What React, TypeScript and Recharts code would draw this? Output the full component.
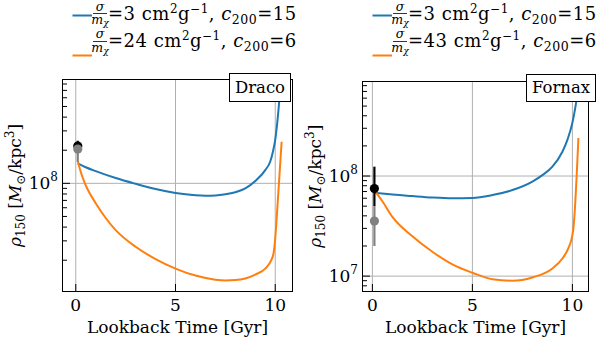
import React from 'react';
import {
  CartesianGrid,
  ErrorBar,
  Label,
  Line,
  LineChart,
  Scatter,
  XAxis,
  YAxis,
} from 'recharts';

const BLUE = '#1f77b4';
const ORANGE = '#ff7f0e';
const FONT = '"DejaVu Serif", "Liberation Serif", serif';

// Draco
const DRACO_BLUE_T = [0.1, 0.5, 1, 2, 3, 4, 5, 6, 6.5, 7, 7.5, 8, 8.5, 9, 9.5, 9.75, 9.9, 10, 10.1, 10.2, 10.3];
const DRACO_BLUE_RHO = [1.52e8, 1.4e8, 1.29e8, 1.117e8, 9.9e7, 8.87e7, 8.17e7, 7.8e7, 7.73e7, 7.76e7, 7.94e7, 8.3e7, 9.0e7, 1.05e8, 1.32e8, 1.58e8, 2.0e8, 2.5e8, 3.55e8, 5.6e8, 1.0e9];
const DRACO_ORANGE_T = [0.1, 0.3, 0.5, 1, 1.5, 2, 3, 4, 5, 6, 7, 7.5, 8, 8.5, 9, 9.5, 9.8, 9.92, 10, 10.05, 10.32];
const DRACO_ORANGE_RHO = [1.6e8, 1.19e8, 9.6e7, 6.6e7, 4.84e7, 3.76e7, 2.65e7, 2.05e7, 1.68e7, 1.45e7, 1.33e7, 1.31e7, 1.32e7, 1.365e7, 1.48e7, 1.68e7, 2.0e7, 2.34e7, 3.16e7, 4.17e7, 2.39e8];
const DRACO_OBS_T = [0.1, 0.1];
const DRACO_OBS_RHO = [2.18e8, 2.05e8];
const DRACO_OBS_ERR = [[0.23e8, 0.26e8], [0.48e8, 0.2e8]];

// Fornax
const FORNAX_BLUE_T = [0.1, 1, 2, 3, 4, 5, 6, 7, 8, 8.5, 9, 9.5, 9.75, 10, 10.1, 10.2, 10.3];
const FORNAX_BLUE_RHO = [6.8e7, 6.53e7, 6.3e7, 6.1e7, 6.0e7, 6.03e7, 6.45e7, 7.24e7, 8.8e7, 1.02e8, 1.24e8, 1.75e8, 2.3e8, 3.4e8, 4.3e8, 5.75e8, 1.0e9];
const FORNAX_ORANGE_T = [0.1, 0.5, 1, 2, 3, 4, 5, 6, 7, 8, 9, 9.5, 9.8, 10, 10.05, 10.3];
const FORNAX_ORANGE_RHO = [7.2e7, 5.6e7, 3.9e7, 2.5e7, 1.75e7, 1.31e7, 1.08e7, 9.3e6, 9.0e6, 9.7e6, 1.19e7, 1.5e7, 1.9e7, 2.57e7, 3.0e7, 2.4e8];
const FORNAX_OBS_T = [0.1, 0.1];
const FORNAX_OBS_RHO = [7.5e7, 3.55e7];
const FORNAX_OBS_ERR = [[2.5e7, 4.9e7], [1.55e7, 1.45e7]];

const OBS_COLORS = ['#000000', '#808080'];
const X_TICKS = [0, 5, 10];

const zip = (t: number[], rho: number[]) => t.map((v, i) => ({ t: v, rho: rho[i] }));

function logTicks(lo: number, hi: number) {
  const out: number[] = [];
  for (let e = Math.floor(Math.log10(lo)); e <= Math.ceil(Math.log10(hi)); e++) {
    for (let m = 1; m <= 9; m++) {
      const v = m * Math.pow(10, e);
      if (v >= lo && v <= hi) out.push(v);
    }
  }
  return out;
}

const isMajor = (v: number) => {
  const e = Math.log10(v);
  return Math.abs(e - Math.round(e)) < 1e-6;
};

const YTick = (props: any) => {
  const { x, y, payload } = props;
  const v = payload.value;
  const major = isMajor(v);
  return (
    <g>
      <line x1={x} x2={x + (major ? 7 : 4)} y1={y} y2={y} stroke="#000" strokeWidth={1} />
      {major && (
        <text x={x - 5} y={y + 6} textAnchor="end" fontFamily={FONT} fontSize={17} fill="#000">
          10<tspan dy={-8} fontSize={12}>{Math.round(Math.log10(v))}</tspan>
        </text>
      )}
    </g>
  );
};

const XTick = (props: any) => {
  const { x, y, payload } = props;
  return (
    <g>
      <line x1={x} x2={x} y1={y} y2={y - 7} stroke="#000" strokeWidth={1} />
      <text x={x} y={y + 20} textAnchor="middle" fontFamily={FONT} fontSize={17} fill="#000">
        {payload.value}
      </text>
    </g>
  );
};

const Dot = (color: string) => (p: any) => (
  <circle cx={p.cx} cy={p.cy} r={4.6} fill={color} />
);

interface PanelProps {
  name: string;
  left: number;
  plot: { top: number; left: number; right: number; bottom: number };
  xDomain: [number, number];
  yDomain: [number, number];
  blue: { t: number; rho: number }[];
  orange: { t: number; rho: number }[];
  obsT: number[];
  obsRho: number[];
  obsErr: number[][];
  box: { x: number; y: number; w: number; h: number };
}

function LegendRows({ ox, labels }: { ox: number; labels: [string, string] }) {
  const rows = [
    { color: BLUE, lineY: 15.5, base: 20, sig: 10.5, bar: 13.5, m: 24, label: labels[0], c: '15' },
    { color: ORANGE, lineY: 55.5, base: 47, sig: 38, bar: 41.5, m: 52, label: labels[1], c: '6' },
  ];
  return (
    <>
      {rows.map((r, i) => (
        <g key={i}>
          <line x1={ox + 72.5} x2={ox + 92} y1={r.lineY} y2={r.lineY} stroke={r.color} strokeWidth={2} />
          <text x={ox + 100} y={r.sig} textAnchor="middle" fontFamily={FONT} fontStyle="italic" fontSize={12.5}>σ</text>
          <line x1={ox + 93} x2={ox + 107} y1={r.bar} y2={r.bar} stroke="#000" strokeWidth={0.8} />
          <text x={ox + 100} y={r.m} textAnchor="middle" fontFamily={FONT} fontStyle="italic" fontSize={12.5}>
            m<tspan fontSize={9} dy={2}>χ</tspan>
          </text>
          <text x={ox + 108} y={r.base} fontFamily={FONT} fontSize={18} letterSpacing={0.5} fill="#000">
            ={r.label} cm<tspan dy={-7} fontSize={12}>2</tspan>
            <tspan dy={7}>g</tspan>
            <tspan dy={-7} fontSize={12}>−1</tspan>
            <tspan dy={7}>, </tspan>
            <tspan fontStyle="italic">c</tspan>
            <tspan dy={4} fontSize={12.5}>200</tspan>
            <tspan dy={-4}>={r.c}</tspan>
          </text>
        </g>
      ))}
    </>
  );
}

function Panel(p: PanelProps) {
  const obs = p.obsT.map((t, i) => ({ t, rho: p.obsRho[i], err: p.obsErr[i] }));
  const yTicks = logTicks(p.yDomain[0], p.yDomain[1]);
  const majors = yTicks.filter(isMajor);
  const plotW = 300 - p.plot.left - p.plot.right;
  const plotH = 350 - p.plot.top - p.plot.bottom;
  return (
    <div style={{ position: 'absolute', left: p.left, top: 0, width: 300, height: 350 }}>
      <LineChart width={300} height={350} margin={{ top: p.plot.top, right: p.plot.right, left: 0, bottom: 0 }}>
        <CartesianGrid
          stroke="#b0b0b0"
          strokeWidth={1}
          horizontalValues={majors}
          verticalValues={X_TICKS}
        />
        <XAxis
          type="number"
          dataKey="t"
          domain={p.xDomain}
          ticks={X_TICKS}
          allowDataOverflow
          height={p.plot.bottom}
          tickSize={0}
          tickMargin={0}
          axisLine={false}
          tickLine={false}
          interval={0}
          tick={<XTick />}
        >
          <Label
            content={(lp: any) => {
              const vb = lp.viewBox;
              return (
                <text x={vb.x + vb.width / 2} y={vb.y + 42} textAnchor="middle" fontFamily={FONT} fontSize={17} fill="#000">
                  Lookback Time [Gyr]
                </text>
              );
            }}
          />
        </XAxis>
        <YAxis
          type="number"
          dataKey="rho"
          scale="log"
          domain={p.yDomain}
          ticks={yTicks}
          allowDataOverflow
          width={p.plot.left}
          tickSize={0}
          tickMargin={0}
          axisLine={false}
          tickLine={false}
          interval={0}
          tick={<YTick />}
        >
          <Label
            content={(lp: any) => {
              const vb = lp.viewBox;
              const cx = vb.x + vb.width - 42;
              const cy = vb.y + vb.height / 2;
              return (
                <text x={cx} y={cy} transform={`rotate(-90 ${cx} ${cy})`} textAnchor="middle" fontFamily={FONT} fontSize={17} fill="#000">
                  <tspan fontStyle="italic">ρ</tspan>
                  <tspan dy={4} fontSize={12}>150</tspan>
                  <tspan dy={-4}> [</tspan>
                  <tspan fontStyle="italic">M</tspan>
                  <tspan dy={4} fontSize={12}>⊙</tspan>
                  <tspan dy={-4}>/kpc</tspan>
                  <tspan dy={-7} fontSize={12}>3</tspan>
                  <tspan dy={7}>]</tspan>
                </text>
              );
            }}
          />
        </YAxis>
        <Line data={p.blue} dataKey="rho" type="monotone" stroke={BLUE} strokeWidth={2} dot={false} isAnimationActive={false} />
        <Line data={p.orange} dataKey="rho" type="monotone" stroke={ORANGE} strokeWidth={2} dot={false} isAnimationActive={false} />
        {obs.map((o, i) => (
          <Scatter key={i} data={[o]} dataKey="rho" shape={Dot(OBS_COLORS[i])} isAnimationActive={false}>
            <ErrorBar dataKey="err" direction="y" width={0} stroke={OBS_COLORS[i]} strokeWidth={2.2} isAnimationActive={false} />
          </Scatter>
        ))}
      </LineChart>
      <div
        style={{
          position: 'absolute',
          left: p.plot.left - 0.6,
          top: p.plot.top - 0.6,
          width: plotW,
          height: plotH,
          border: '1.2px solid #000',
          pointerEvents: 'none',
        }}
      />
      <div
        style={{
          position: 'absolute',
          left: p.box.x - p.left,
          top: p.box.y,
          width: p.box.w,
          height: p.box.h,
          boxSizing: 'border-box',
          border: '1px solid #000',
          background: '#fff',
          fontFamily: FONT,
          fontSize: 16.5,
          lineHeight: `${p.box.h - 2}px`,
          textAlign: 'center',
          color: '#000',
        }}
      >
        {p.name}
      </div>
    </div>
  );
}

export default function App() {
  return (
    <div style={{ position: 'absolute', left: 0, top: 0, width: 600, height: 350, background: '#fff' }}>
      <Panel
        name="Draco"
        left={0}
        plot={{ top: 80, left: 63, right: 8, bottom: 59 }}
        xDomain={[-0.64, 10.84]}
        yDomain={[1.05e7, 8.7e8]}
        blue={zip(DRACO_BLUE_T, DRACO_BLUE_RHO)}
        orange={zip(DRACO_ORANGE_T, DRACO_ORANGE_RHO)}
        obsT={DRACO_OBS_T}
        obsRho={DRACO_OBS_RHO}
        obsErr={DRACO_OBS_ERR}
        box={{ x: 229, y: 73, w: 62, h: 29 }}
      />
      <Panel
        name="Fornax"
        left={300}
        plot={{ top: 81.5, left: 63, right: 12, bottom: 59 }}
        xDomain={[-0.47, 10.78]}
        yDomain={[7.1e6, 8.8e8]}
        blue={zip(FORNAX_BLUE_T, FORNAX_BLUE_RHO)}
        orange={zip(FORNAX_ORANGE_T, FORNAX_ORANGE_RHO)}
        obsT={FORNAX_OBS_T}
        obsRho={FORNAX_OBS_RHO}
        obsErr={FORNAX_OBS_ERR}
        box={{ x: 526, y: 74, w: 70, h: 28 }}
      />
      <svg width={600} height={70} style={{ position: 'absolute', left: 0, top: 0 }}>
        <LegendRows ox={0} labels={['3', '24']} />
        <LegendRows ox={300} labels={['3', '43']} />
      </svg>
    </div>
  );
}
